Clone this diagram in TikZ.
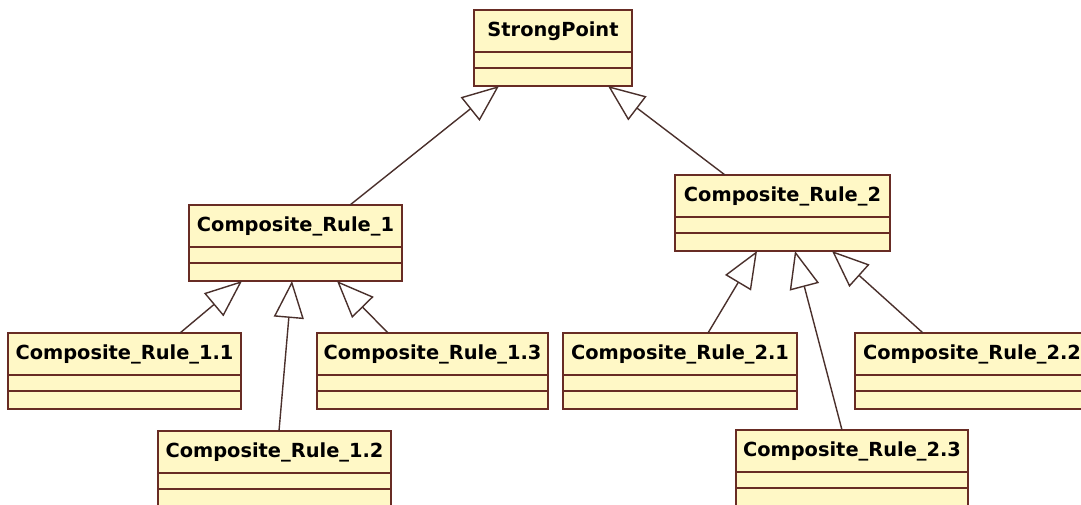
\documentclass[tikz,border=0pt]{standalone}
\usepackage{fontspec}
\usetikzlibrary{arrows.meta}
\newfontfamily\umlfont{DejaVu Sans}

\definecolor{classfill}{RGB}{255,248,198}
\definecolor{classedge}{RGB}{104,44,36}
\definecolor{linkcol}{RGB}{74,48,44}

\tikzset{
  classbox/.style={draw=classedge, fill=classfill, line width=1.8pt,
    rectangle, inner sep=0pt, outer sep=0pt, minimum height=76pt},
  classline/.style={draw=classedge, line width=1.8pt},
  classname/.style={font=\umlfont\bfseries\fontsize{19.4}{23}\selectfont,
    inner sep=0pt, text=black},
  inherit/.style={draw=linkcol, line width=1.4pt,
    -{Triangle[open, length=37pt, width=30pt, line width=1.4pt]}},
}

% #1 name, #2 left, #3 top, #4 right, #5 class title
\newcommand\umlclass[5]{%
  \node[classbox, anchor=north west, minimum width={(#4-#2)*1pt}] (#1) at (#2,#3) {};
  \draw[classline] ([yshift=-42pt]#1.north west) -- ([yshift=-42pt]#1.north east);
  \draw[classline] ([yshift=-58pt]#1.north west) -- ([yshift=-58pt]#1.north east);
  \node[classname] (#1-t) at ([yshift=-21pt]#1.north) {#5};
}

\begin{document}
\begin{tikzpicture}[x=1pt, y=-1pt]
  \useasboundingbox (0,0) rectangle (1081,505);
  \clip (0,0) rectangle (1081,505);
  \fill[white] (0,0) rectangle (1081,505);

  % classes
  \umlclass{sp}{474}{10}{632}{StrongPoint}
  \umlclass{cra}{189}{205}{402}{Composite\_Rule\_1}
  \umlclass{crb}{675}{175}{890}{Composite\_Rule\_2}
  \umlclass{craa}{8}{333}{241}{Composite\_Rule\_1.1}
  \umlclass{crab}{158}{431}{391}{Composite\_Rule\_1.2}
  \umlclass{crac}{317}{333}{548}{Composite\_Rule\_1.3}
  \umlclass{crba}{563}{333}{797}{Composite\_Rule\_2.1}
  \umlclass{crbb}{855}{333}{1089}{Composite\_Rule\_2.2}
  \umlclass{crbc}{736}{430}{968}{Composite\_Rule\_2.3}

  % generalizations
  \draw[inherit] ([xshift=161pt]cra.north west) -- ([xshift=25pt]sp.south west);
  \draw[inherit] ([xshift=50pt]crb.north west) -- ([xshift=134pt]sp.south west);

  \draw[inherit] ([xshift=172pt]craa.north west) -- ([xshift=53pt]cra.south west);
  \draw[inherit] ([xshift=121pt]crab.north west) -- ([xshift=103pt]cra.south west);
  \draw[inherit] ([xshift=71pt]crac.north west) -- ([xshift=148pt]cra.south west);

  \draw[inherit] ([xshift=145pt]crba.north west) -- ([xshift=82pt]crb.south west);
  \draw[inherit] ([xshift=106pt]crbc.north west) -- ([xshift=120pt]crb.south west);
  \draw[inherit] ([xshift=68pt]crbb.north west) -- ([xshift=157pt]crb.south west);
\end{tikzpicture}
\end{document}
